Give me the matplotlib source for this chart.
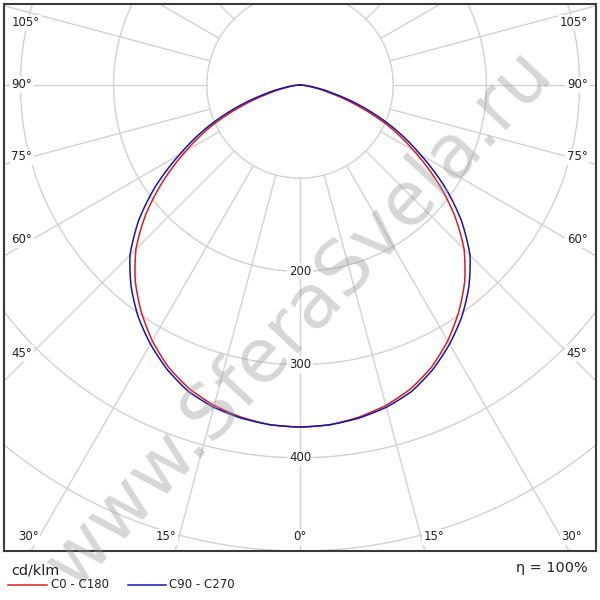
import numpy as np
import matplotlib
matplotlib.use('Agg')
import matplotlib.pyplot as plt
from matplotlib.lines import Line2D
from matplotlib.patches import Rectangle
from matplotlib.path import Path

# Кривые силы света, кд/клм (угол от надира)
angles = [0, 5, 10, 15, 20, 25, 30, 35, 40, 45, 50, 55, 60, 65, 70, 75, 80, 85, 90]
c0_c180 = [367, 366, 362, 356, 347, 334, 317, 297, 275, 249, 216, 179, 141, 106, 67, 34, 13, 4, 0]
c90_c270 = [367, 366, 363, 358, 350, 337, 321, 303, 282, 258, 226, 189, 149, 113, 76, 42, 18, 6, 0]

ring_values = [100, 200, 300, 400, 500, 600]
ring_labels = [200, 300, 400]
spoke_angles = list(range(0, 360, 15))

unit = 'cd/klm'
names = ['C0 - C180', 'C90 - C270']
colors = ['#dd1c1c', '#1414b0']
eta = 'η = 100%'
watermark = 'www.SferaSvela.ru'

W = H = 600
fig = plt.figure(figsize=(6, 6), dpi=100)

k = 0.932               # пикселей на 1 кд/клм
px = 1 / k
cx, cy = 300, 85        # центр диаграммы, пиксели от левого верхнего угла
frame = [4, 49, 592, 547]   # рамка: x, y снизу, ширина, высота

# полярные оси под сетку и кривые (больше рамки, обрезаются по рамке)
R = 650
half = R * k
axp = fig.add_axes([(cx - half) / W, (H - cy - half) / H, 2 * half / W, 2 * half / H],
                   projection='polar')
axp.set_theta_zero_location('S')
axp.set_rlim(0, R)
axp.set_axis_off()
clip = Rectangle((frame[0] / W, frame[1] / H), frame[2] / W, frame[3] / H,
                 transform=fig.transFigure)

grid_col = '#d2d2d2'
t = np.linspace(0, 2 * np.pi, 721)
arts = []
for r in ring_values:
    arts += axp.plot(t, np.full_like(t, r), color=grid_col, lw=1.0, zorder=1)
for a in spoke_angles:
    arts += axp.plot([np.radians(a)] * 2, [100, R], color=grid_col, lw=1.0, zorder=1)

# кривые: отрезки между отсчётами строятся в полярных координатах (r линейно по углу)
th = np.radians(np.array(angles, dtype=float))
full_th = np.concatenate([-th[::-1], th[1:]])
for vals, col in zip([c0_c180, c90_c270], colors):
    v = np.array(vals, dtype=float)
    p = Path(np.column_stack([full_th, np.concatenate([v[::-1], v[1:]])])).interpolated(12)
    arts += axp.plot(p.vertices[:, 0], p.vertices[:, 1], color=col, lw=1.1, zorder=4)
for a in arts:
    a.set_clip_path(clip)

# верхние оси: рамка, подписи, водяной знак
ax = fig.add_axes([f / s for f, s in zip(frame, [W, H, W, H])])
ax.patch.set_alpha(0)
xmax = (cx - frame[0]) * px
ytop = (cy - (H - frame[1] - frame[3])) * px
ybot = -(H - frame[1] - cy) * px
ax.set_xlim(-xmax, xmax)
ax.set_ylim(ybot, ytop)
ax.set_xticks([])
ax.set_yticks([])
for s in ax.spines.values():
    s.set_color('#3a3a3a')
    s.set_linewidth(1.5)

lab = dict(fontsize=8.5, color='#222222', zorder=5,
           bbox=dict(facecolor='white', edgecolor='none', pad=1.2))

for r in ring_labels:
    ax.text(0, -r, str(r), ha='center', va='center', **lab)

# подписи углов у рамки
xs = xmax - 28 * px
yb = ybot + 20 * px
for a in range(0, 181, 15):
    ar = np.radians(a)
    if a == 0:
        ax.text(0, ybot + 14 * px, '0°', ha='center', va='center', **lab)
        continue
    xb = -yb * np.tan(ar) if a < 90 else np.inf
    if xb <= xs:
        for sgn, ha in [(-1, 'right'), (1, 'left')]:
            ax.text(sgn * (xb + 4 * px), ybot + 14 * px, f'{a}°', ha=ha, va='center', **lab)
    else:
        ys = -xs / np.tan(ar) if a != 90 else 0
        if ys > ytop:
            continue
        ys = min(ys, ytop - 19 * px)
        ax.text(-xmax + 7.5 * px, ys, f'{a}°', ha='left', va='center', **lab)
        ax.text(xmax - 8.5 * px, ys, f'{a}°', ha='right', va='center', **lab)

# водяной знак
ax.text(0.5, 1 - 318 / H, watermark, transform=fig.transFigure, ha='center', va='center',
        rotation=47, fontsize=54, color='#9a9a9a', alpha=0.4, zorder=3, clip_on=False)

# легенда
fig.text(11 / W, 1 - 570 / H, unit, ha='left', va='center', fontsize=10.4, color='#222222')
fig.text(588 / W, 1 - 568 / H, eta, ha='right', va='center', fontsize=10.4, color='#222222')
legend_x = [(8, 47, 51), (128, 166, 169)]
for (x0, x1, xt), name, col in zip(legend_x, names, colors):
    fig.add_artist(Line2D([x0 / W, x1 / W], [1 - 585 / H] * 2, color=col, lw=1.1))
    fig.text(xt / W, 1 - 585 / H, name, ha='left', va='center', fontsize=8.5, color='#222222')

fig.savefig('out.png', dpi=100, facecolor='white')
